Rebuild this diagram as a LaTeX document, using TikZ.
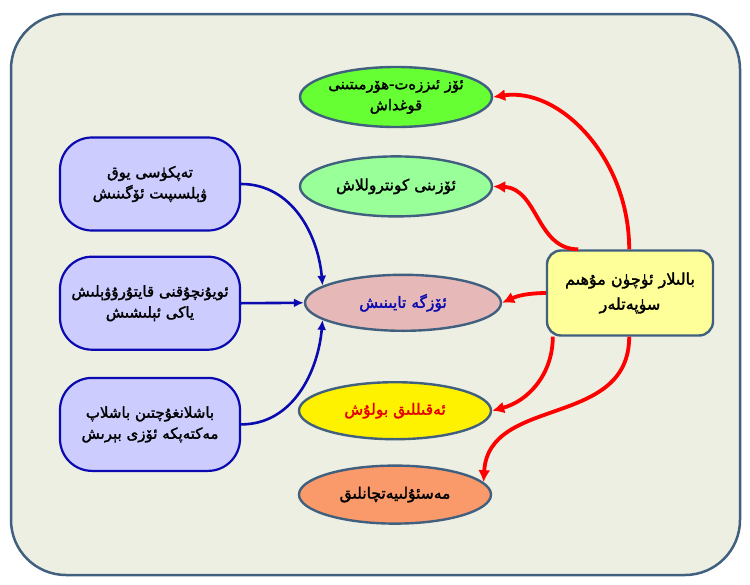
\documentclass[tikz,border=0pt]{standalone}
\usepackage{fontspec}
\usepackage{xcolor}
\usepackage{tikz}
\usetikzlibrary{arrows.meta,positioning,shapes.geometric}
\newfontfamily\uyfont[Script=Arabic, FakeBold=1.8]{DejaVu Sans}
\TeXXeTstate=1
\newcommand{\uytxt}[1]{\beginR #1\endR}
\definecolor{framecol}{HTML}{41607F}
\definecolor{bgcol}{HTML}{ECEFE1}
\definecolor{lavcol}{HTML}{CCCCFF}
\definecolor{navycol}{HTML}{0A0AB0}
\definecolor{greencol}{HTML}{66FF33}
\definecolor{mintcol}{HTML}{99FF99}
\definecolor{pinkcol}{HTML}{E6B9B8}
\definecolor{orangecol}{HTML}{FA9A6A}
\definecolor{keycol}{HTML}{FFFF99}

\begin{document}
\begin{tikzpicture}[x=1pt, y=-1pt,
  qualbox/.style={ellipse, draw=framecol, line width=2.4pt, minimum width=192pt,
    minimum height=60pt, inner sep=0pt, align=center, font=\uyfont\fontsize{15.5}{22}\selectfont},
  skillbox/.style={draw=navycol, fill=lavcol, line width=2.2pt, rounded corners=32pt,
    minimum width=180pt, minimum height=93pt, align=center,
    font=\uyfont\fontsize{15}{21}\selectfont},
  keybox/.style={draw=framecol, fill=keycol, line width=2.4pt, rounded corners=14pt,
    minimum width=166pt, minimum height=85pt, align=center,
    font=\uyfont\fontsize{16}{25}\selectfont},
  bluearr/.style={draw=navycol, line width=2.6pt, -{Latex[length=10pt,width=9pt]}},
  redarr/.style={draw=red, line width=3.8pt, -{Latex[length=12pt,width=12pt]}}
]
\useasboundingbox (0,0) rectangle (750,584);
\draw[rounded corners=55pt, fill=bgcol, draw=framecol, line width=2.5pt] (11,14) rectangle (740,575);

% qualities
\node[qualbox, fill=greencol, font=\uyfont\fontsize{14.8}{21}\selectfont] (respect) at (396,97) {\uytxt{ئۆز ئىززەت-ھۆرمىتىنى}\\\uytxt{قوغداش}};
\node[qualbox, fill=mintcol, below=27pt of respect] (control) {\uytxt{ئۆزىنى كونتروللاش}};
\node[qualbox, fill=pinkcol, text=navycol, below=56pt of control, xshift=7pt,
  minimum width=196pt, minimum height=56pt] (selfrely) {\uytxt{ئۆزگە تايىنىش}};
\node[qualbox, fill=yellow, text=red!90!black, below=49pt of selfrely, xshift=-8pt,
  minimum height=57pt] (wise) {\uytxt{ئەقىللىق بولۇش}};
\node[qualbox, fill=orangecol, below=24pt of wise, minimum height=58pt] (duty) {\uytxt{مەسئۇلىيەتچانلىق}};

% examples
\node[skillbox] (bike) at (150,184) {\uytxt{تەپكۈسى يوق}\\\uytxt{ۋېلسىپىت ئۆگىنىش}};
\node[skillbox, below=24pt of bike] (toy) {\uytxt{ئويۇنچۇقنى قايتۇرۇۋېلىش}\\\uytxt{ياكى ئېلىشىش}};
\node[skillbox, below=26pt of toy] (school) {\uytxt{باشلانغۇچتىن باشلاپ}\\\uytxt{مەكتەپكە ئۆزى بېرىش}};

% key
\node[keybox] (key) at (630,293) {\uytxt{بالىلار ئۈچۈن مۇھىم}\\\uytxt{سۈپەتلەر}};

\draw[bluearr] (bike.east) to[out=0, in=95] (selfrely.168);
\draw[bluearr] (toy.east) -- (selfrely.west);
\draw[bluearr] (school.east) to[out=0, in=-95] (selfrely.192);

\coordinate (k1) at ([xshift=-85pt]key.north east);
\coordinate (k2) at ([xshift=-136pt]key.north east);
\coordinate (k3) at ([xshift=7pt]key.south west);
\coordinate (k4) at ([xshift=-85pt]key.south east);
\draw[redarr] (k1) .. controls ++(0,-92) and ++(66,-10) .. (respect.east);
\draw[redarr] (k2) .. controls ++(-42,0) and ++(45,2) .. (control.east);
\draw[redarr] (key.west) to[bend right=12] (selfrely.east);
\draw[redarr] (k3) to[out=-90, in=15] (wise.east);
\draw[redarr] (k4) .. controls ++(0,92) and ++(5,-87) .. (duty.8);
\end{tikzpicture}
\end{document}
